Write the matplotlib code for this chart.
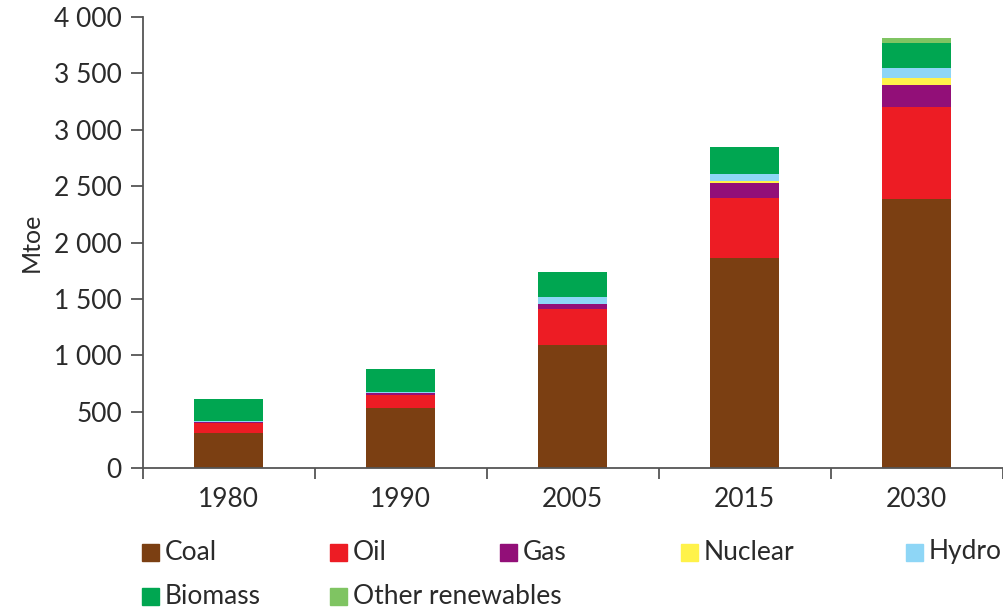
import matplotlib
matplotlib.use("Agg")
import matplotlib.pyplot as plt
from matplotlib.patches import Rectangle
import numpy as np

years = ["1980", "1990", "2005", "2015", "2030"]
sources = ["Coal", "Oil", "Gas", "Nuclear", "Hydro", "Biomass", "Other renewables"]

coal = [308, 530, 1091, 1860, 2386]
oil = [94, 117, 322, 535, 818]
gas = [8, 20, 39, 130, 193]
nuclear = [0, 0, 4, 20, 65]
hydro = [3, 3, 58, 62, 88]
biomass = [196, 208, 222, 237, 222]
other_renewables = [0, 0, 0, 0, 39]

colors = ["#7b3f12", "#ed1c24", "#920f78", "#fff24a", "#8ed6f6", "#00a651", "#7fc462"]

plt.rcParams["font.family"] = ["Lato", "DejaVu Sans"]
axis_color = "#555555"
text_color = "#2a2a2a"

fig = plt.figure(figsize=(10.04, 6.10), dpi=100)
ax = fig.add_axes([0.1421, 0.2328, 0.8566, 0.7393])

series = [coal, oil, gas, nuclear, hydro, biomass, other_renewables]
x = np.arange(len(years))
bottom = np.zeros(len(years))
for name, vals, c in zip(sources, series, colors):
    ax.bar(x, vals, width=0.40, bottom=bottom, color=c, label=name, linewidth=0)
    bottom += np.array(vals)

ax.set_xlim(-0.5, len(years) - 0.5)
ax.set_ylim(0, 4000)
ax.set_yticks(np.arange(0, 4001, 500))
ax.set_yticklabels([f"{v:,}".replace(",", " ") for v in range(0, 4001, 500)], fontsize=19, color=text_color)
ax.set_xticks(x)
ax.set_xticklabels(years, fontsize=19, color=text_color)
ax.set_xticks(np.arange(-0.5, len(years)), minor=True)
ax.tick_params(axis="x", which="major", length=0, pad=14)
ax.tick_params(axis="x", which="minor", length=8, width=1.3, color=axis_color, direction="out")
ax.tick_params(axis="y", length=9, width=1.3, color=axis_color, pad=6)
ax.set_ylabel("Mtoe", fontsize=18, color=text_color, labelpad=8)

for side in ["top", "right"]:
    ax.spines[side].set_visible(False)
for side in ["left", "bottom"]:
    ax.spines[side].set_color(axis_color)
    ax.spines[side].set_linewidth(1.3)

# legend laid out by hand like the original
W, H = 1004, 610
slots = [(142, 552), (330, 552), (500, 552), (681, 552), (906, 552), (142, 596), (330, 596)]
sq = 17
for name, c, (px, py) in zip(sources, colors, slots):
    fig.patches.append(Rectangle((px / W, (H - py - sq / 2) / H), sq / W, sq / H,
                                 transform=fig.transFigure, color=c, figure=fig))
    fig.text((px + sq + 6) / W, (H - py) / H, name, fontsize=19, color=text_color,
             va="center", ha="left")

fig.savefig("out.png", dpi=100)
